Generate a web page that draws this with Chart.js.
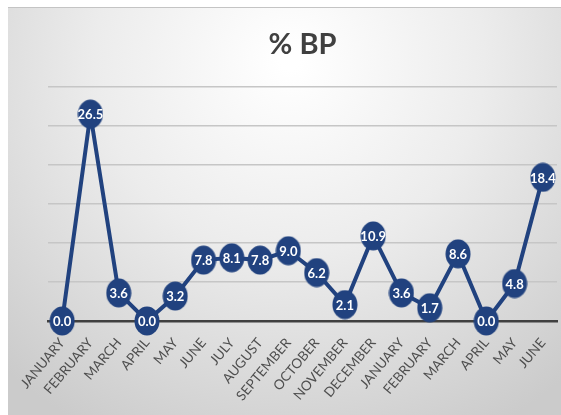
<!DOCTYPE html>
<html>
<head>
<meta charset="utf-8">
<script src="https://cdn.jsdelivr.net/npm/chart.js@4"></script>
<style>
  html, body { margin: 0; padding: 0; background: #fff; }
  #wrap { width: 561px; height: 415px; }
</style>
</head>
<body>
<div id="wrap"><canvas id="myChart" width="561" height="415"></canvas></div>
<script>
const meses = ["JANUARY", "FEBRUARY", "MARCH", "APRIL", "MAY", "JUNE", "JULY", "AUGUST", "SEPTEMBER",
    "OCTOBER", "NOVEMBER", "DECEMBER", "JANUARY", "FEBRUARY", "MARCH", "APRIL", "MAY", "JUNE"];
const valores = [0.0, 26.5, 3.6, 0.0, 3.2, 7.8, 8.1, 7.8, 9.0, 6.2, 2.1, 10.9, 3.6, 1.7, 8.6, 0.0, 4.8, 18.4];
const eixoY = [0, 5, 10, 15, 20, 25, 30];

const azul = "#21427f";

// marcador oval
const marcador = document.createElement("canvas");
marcador.width = 26;
marcador.height = 30;
const mctx = marcador.getContext("2d");
mctx.fillStyle = azul;
mctx.beginPath();
mctx.ellipse(13, 15, 12.5, 14.5, 0, 0, Math.PI * 2);
mctx.fill();

const fundo = {
    id: "fundo",
    beforeDraw(chart) {
        const ctx = chart.ctx;
        ctx.save();
        ctx.fillStyle = "#ffffff";
        ctx.fillRect(0, 0, chart.width, chart.height);
        const g = ctx.createRadialGradient(290, 60, 10, 290, 60, 420);
        g.addColorStop(0, "#ffffff");
        g.addColorStop(0.45, "#ececec");
        g.addColorStop(1, "#cbcbcb");
        ctx.fillStyle = g;
        ctx.fillRect(8, 7, chart.width - 8, chart.height - 7);
        ctx.fillStyle = "#c4c4c4";
        ctx.fillRect(8, 7, chart.width - 8, 1);
        ctx.restore();
    }
};

const rotulos = {
    id: "rotulos",
    afterDatasetsDraw(chart) {
        const ctx = chart.ctx;
        const meta = chart.getDatasetMeta(0);
        ctx.save();
        ctx.fillStyle = "#ffffff";
        ctx.font = "bold 13px Lato";
        ctx.textAlign = "center";
        ctx.textBaseline = "middle";
        meta.data.forEach((p, i) => {
            ctx.fillText(valores[i].toFixed(1), p.x, p.y + 1);
        });
        ctx.restore();
    }
};

new Chart("myChart", {
    type: "line",
    data: {
        labels: meses,
        datasets: [{
            data: valores,
            borderColor: azul,
            borderWidth: 4,
            pointStyle: marcador,
            pointRadius: 13,
            pointHoverRadius: 13,
            tension: 0,
            clip: false
        }]
    },
    options: {
        responsive: false,
        animation: false,
        events: [],
        layout: { autoPadding: false, padding: { left: 48, right: 4, top: 0, bottom: 0 } },
        plugins: {
            legend: { display: false },
            tooltip: { enabled: false },
            title: {
                display: true,
                text: "% BP",
                color: "#404040",
                font: { family: "Lato", size: 29, weight: "bold" },
                padding: { top: 27, bottom: 25 }
            }
        },
        scales: {
            x: {
                offset: true,
                grid: { display: false },
                border: { color: "#404040", width: 2.5 },
                ticks: {
                    color: "#4f4f4f",
                    font: { family: "Lato", size: 13.5 },
                    minRotation: 50,
                    maxRotation: 50,
                    autoSkip: false,
                    padding: 6
                },
                afterFit(s) {
                    s.height = 94;
                    s.paddingLeft = 0;
                    s.paddingRight = 0;
                }
            },
            y: {
                min: eixoY[0],
                max: eixoY[eixoY.length - 1],
                afterBuildTicks(s) { s.ticks = eixoY.map(v => ({ value: v })); },
                ticks: { display: false },
                border: { display: false },
                grid: {
                    drawTicks: false,
                    lineWidth: 1.5,
                    color: c => c.tick.value === 0 ? "rgba(0,0,0,0)" : "#c6c6c6"
                },
                afterFit(s) { s.width = 0; }
            }
        }
    },
    plugins: [fundo, rotulos]
});
</script>
</body>
</html>
